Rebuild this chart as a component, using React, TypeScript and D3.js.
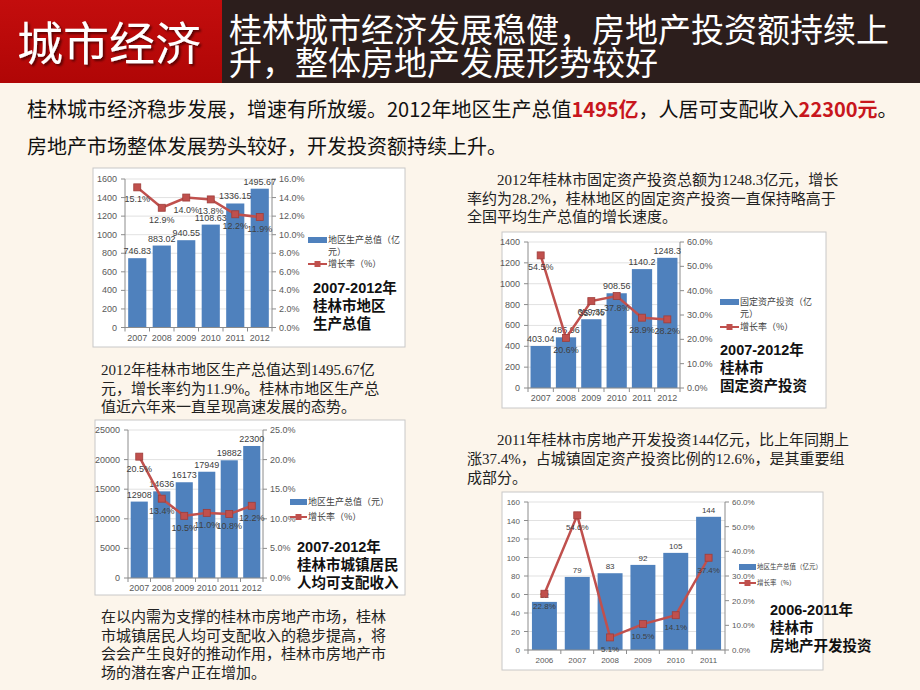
import React from "react";
import * as d3 from "d3";

// ---------- DATA ----------
const gdpYears = ["2007", "2008", "2009", "2010", "2011", "2012"];
const gdpValues = [746.83, 883.02, 940.55, 1108.63, 1336.15, 1495.67];
const gdpRates = [15.1, 12.9, 14.0, 13.8, 12.2, 11.9];

const fixedYears = ["2007", "2008", "2009", "2010", "2011", "2012"];
const fixedValues = [403.04, 485.96, 659.35, 908.56, 1140.2, 1248.3];
const fixedRates = [54.5, 20.6, 35.7, 37.8, 28.9, 28.2];

const incomeYears = ["2007", "2008", "2009", "2010", "2011", "2012"];
const incomeValues = [12908, 14636, 16173, 17949, 19882, 22300];
const incomeRates = [20.5, 13.4, 10.5, 11.0, 10.8, 12.2];

const reYears = ["2006", "2007", "2008", "2009", "2010", "2011"];
const reValues = [52, 79, 83, 92, 105, 144];
const reRates = [22.8, 54.6, 5.1, 10.5, 14.1, 37.4];

const headerLeft = "城市经济";
const headerRight = ["桂林城市经济发展稳健，房地产投资额持续上", "升，整体房地产发展形势较好"];

const para1 = ["　　2012年桂林市固定资产投资总额为1248.3亿元，增长", "率约为28.2%，桂林地区的固定资产投资一直保持略高于", "全国平均生产总值的增长速度。"];
const para2 = ["2012年桂林市地区生产总值达到1495.67亿", "元，增长率约为11.9%。桂林市地区生产总", "值近六年来一直呈现高速发展的态势。"];
const para3 = ["　　2011年桂林市房地产开发投资144亿元，比上年同期上", "涨37.4%，占城镇固定资产投资比例的12.6%，是其重要组", "成部分。"];
const para4 = ["在以内需为支撑的桂林市房地产市场，桂林", "市城镇居民人均可支配收入的稳步提高，将", "会会产生良好的推动作用，桂林市房地产市", "场的潜在客户正在增加。"];

const BLUE = "#4F81BD";
const RED = "#C0504D";
const SANS = "'Liberation Sans', 'Noto Sans CJK SC', sans-serif";
const CJK = "'Noto Sans CJK SC', sans-serif";
const SERIF = "'Liberation Serif', 'Noto Sans CJK SC', serif";

type ComboProps = {
  cats: string[];
  values: number[];
  rates: number[];
  yMax: number;
  yStep: number;
  rMax: number;
  rStep: number;
  box: [number, number, number, number];
  plot: [number, number, number, number];
  pad: number;
  valueFmt: (v: number) => string;
  legend: string[][];
  legendX: number;
  legendY: [number, number];
  legendFont: number;
  legendW: number;
  title: string[];
  titleX: number;
  titleY: number;
  titleGap: number;
  tickFont: number;
  catY: number;
};

function Combo(p: ComboProps) {
  const [x0, y0, x1, y1] = p.plot;
  const x = d3.scaleBand<string>().domain(p.cats).range([x0, x1]).paddingInner(p.pad).paddingOuter(p.pad / 2);
  const y = d3.scaleLinear().domain([0, p.yMax]).range([y1, y0]);
  const r = d3.scaleLinear().domain([0, p.rMax]).range([y1, y0]);
  const yTicks = d3.range(0, p.yMax + p.yStep / 2, p.yStep);
  const rTicks = d3.range(0, p.rMax + p.rStep / 2, p.rStep);
  const bw = x.bandwidth();
  const cx = (c: string) => (x(c) as number) + bw / 2;
  const line = d3
    .line<number>()
    .x((_, i) => cx(p.cats[i]))
    .y((d) => r(d));
  const step = x.step();
  const [bx0, by0, bx1, by1] = p.box;
  const lx = p.legendX;
  return (
    <g>
      <rect x={bx0} y={by0} width={bx1 - bx0} height={by1 - by0} fill="#FFFFFF" stroke="#C8C8C8" strokeWidth={1} />
      {yTicks.map((t) => (
        <line key={"g" + t} x1={x0} x2={x1} y1={y(t)} y2={y(t)} stroke="#D9D9D9" strokeWidth={0.8} />
      ))}
      {p.cats.map((c, i) => (
        <rect key={"b" + c} x={x(c)} y={y(p.values[i])} width={bw} height={y1 - y(p.values[i])} fill={BLUE} />
      ))}
      <line x1={x0} x2={x0} y1={y0} y2={y1} stroke="#8C8C8C" />
      <line x1={x1} x2={x1} y1={y0} y2={y1} stroke="#8C8C8C" />
      <line x1={x0} x2={x1} y1={y1} y2={y1} stroke="#8C8C8C" />
      {yTicks.map((t) => (
        <g key={"yl" + t}>
          <line x1={x0 - 4} x2={x0} y1={y(t)} y2={y(t)} stroke="#8C8C8C" />
          <text x={x0 - 8} y={y(t) + 3} textAnchor="end" fontSize={p.tickFont} fontFamily={SANS} fill="#595959">
            {d3.format("d")(t)}
          </text>
        </g>
      ))}
      {rTicks.map((t) => (
        <g key={"rl" + t}>
          <line x1={x1} x2={x1 + 4} y1={r(t)} y2={r(t)} stroke="#8C8C8C" />
          <text x={x1 + 7} y={r(t) + 3} textAnchor="start" fontSize={p.tickFont} fontFamily={SANS} fill="#595959">
            {d3.format(".1f")(t) + "%"}
          </text>
        </g>
      ))}
      {d3.range(p.cats.length + 1).map((i) => (
        <line key={"ct" + i} x1={x0 + i * step} x2={x0 + i * step} y1={y1} y2={y1 + 4} stroke="#8C8C8C" />
      ))}
      {p.cats.map((c) => (
        <text key={"cl" + c} x={cx(c)} y={p.catY} textAnchor="middle" fontSize={p.tickFont} fontFamily={SANS} fill="#595959">
          {c}
        </text>
      ))}
      {p.cats.map((c, i) => (
        <text key={"vl" + c} x={cx(c)} y={y(p.values[i]) - 4} textAnchor="middle" fontSize={p.tickFont} fontFamily={SANS} fill="#404040">
          {p.valueFmt(p.values[i])}
        </text>
      ))}
      <path d={line(p.rates) || ""} fill="none" stroke={RED} strokeWidth={2.5} />
      {p.cats.map((c, i) => (
        <rect key={"m" + c} x={cx(c) - 3.5} y={r(p.rates[i]) - 3.5} width={7} height={7} fill={RED} stroke="#9E3D3A" strokeWidth={0.8} />
      ))}
      {p.cats.map((c, i) => (
        <text key={"rv" + c} x={cx(c)} y={r(p.rates[i]) + 15} textAnchor="middle" fontSize={p.tickFont} fontFamily={SANS} fill="#404040">
          {d3.format(".1f")(p.rates[i]) + "%"}
        </text>
      ))}
      {/* legend */}
      <rect x={lx} y={p.legendY[0] - 3} width={p.legendW} height={6} fill={BLUE} />
      {p.legend[0].map((s, i) => (
        <text key={"lg0" + i} x={lx + p.legendW + 1} y={p.legendY[0] + p.legendFont * 0.38 + i * (p.legendFont + 3)} fontSize={p.legendFont} fontFamily={CJK} fill="#404040">
          {s}
        </text>
      ))}
      <line x1={lx} x2={lx + p.legendW} y1={p.legendY[1]} y2={p.legendY[1]} stroke={RED} strokeWidth={2} />
      <rect x={lx + p.legendW / 2 - 3} y={p.legendY[1] - 3} width={6} height={6} fill={RED} />
      {p.legend[1].map((s, i) => (
        <text key={"lg1" + i} x={lx + p.legendW + 1} y={p.legendY[1] + p.legendFont * 0.38} fontSize={p.legendFont} fontFamily={CJK} fill="#404040">
          {s}
        </text>
      ))}
      {p.title.map((s, i) => (
        <text key={"tt" + i} x={p.titleX} y={p.titleY + i * p.titleGap} fontSize={14.5} fontWeight="bold" fontFamily={SANS} fill="#111">
          {s}
        </text>
      ))}
    </g>
  );
}

function Para({ lines, x, y, gap }: { lines: string[]; x: number; y: number; gap: number }) {
  return (
    <g>
      {lines.map((s, i) => (
        <text key={i} x={x} y={y + i * gap} fontSize={15} fontFamily={SERIF} fill="#222">
          {s}
        </text>
      ))}
    </g>
  );
}

export default function App() {
  return (
    <svg width={920} height={690} style={{ position: "absolute", left: 0, top: 0 }} xmlns="http://www.w3.org/2000/svg">
      <defs>
        <filter id="hshadow" x="-10%" y="-20%" width="130%" height="150%">
          <feDropShadow dx={2} dy={2} stdDeviation={1} floodColor="#3a0000" floodOpacity={0.75} />
        </filter>
        <linearGradient id="redg" x1="0" y1="0" x2="0" y2="1">
          <stop offset="0" stopColor="#C30D0D" />
          <stop offset="1" stopColor="#B00606" />
        </linearGradient>
      </defs>
      <rect x={0} y={0} width={920} height={690} fill="#FCF5EB" />
      {/* header */}
      <rect x={0} y={0} width={222} height={83} fill="url(#redg)" />
      <rect x={222} y={0} width={698} height={83} fill="#2C1E1C" />
      <text x={17} y={60} fontSize={46} fontFamily={CJK} fill="#FFFFFF" filter="url(#hshadow)">
        {headerLeft}
      </text>
      {headerRight.map((s, i) => (
        <text key={i} x={229} y={42 + i * 33} fontSize={33} fontFamily={CJK} fill="#FFFFFF">
          {s}
        </text>
      ))}
      {/* subtitle */}
      <text x={27} y={117} fontSize={20} fontFamily={CJK} fill="#111">
        桂林城市经济稳步发展，增速有所放缓。2012年地区生产总值
        <tspan fill="#C8161D" fontWeight="bold">1495亿</tspan>
        ，人居可支配收入
        <tspan fill="#C8161D" fontWeight="bold">22300元</tspan>。
      </text>
      <text x={27} y={154} fontSize={20} fontFamily={CJK} fill="#111">
        房地产市场整体发展势头较好，开发投资额持续上升。
      </text>

      {/* chart 1 */}
      <Combo
        cats={gdpYears}
        values={gdpValues}
        rates={gdpRates}
        yMax={1600}
        yStep={200}
        rMax={16}
        rStep={2}
        box={[93, 168, 405, 347]}
        plot={[125, 179, 272, 327.5]}
        pad={0.26}
        valueFmt={(v) => v.toFixed(2)}
        legend={[["地区生产总值（亿", "元）"], ["增长率（%）"]]}
        legendX={308}
        legendY={[240, 264]}
        legendFont={9}
        legendW={19}
        title={["2007-2012年", "桂林市地区", "生产总值"]}
        titleX={313}
        titleY={293}
        titleGap={18}
        tickFont={9}
        catY={341}
      />
      <Para lines={para2} x={101} y={375} gap={18.5} />

      {/* chart 2 */}
      <Para lines={para1} x={467} y={185} gap={18.5} />
      <Combo
        cats={fixedYears}
        values={fixedValues}
        rates={fixedRates}
        yMax={1400}
        yStep={200}
        rMax={60}
        rStep={10}
        box={[502, 232, 826, 408]}
        plot={[528, 242, 680, 388]}
        pad={0.2}
        valueFmt={(v) => String(v)}
        legend={[["固定资产投资（亿", "元）"], ["增长率（%）"]]}
        legendX={720}
        legendY={[302, 327]}
        legendFont={9}
        legendW={19}
        title={["2007-2012年", "桂林市", "固定资产投资"]}
        titleX={720}
        titleY={355}
        titleGap={18}
        tickFont={9}
        catY={401}
      />

      {/* chart 3 */}
      <Combo
        cats={incomeYears}
        values={incomeValues}
        rates={incomeRates}
        yMax={25000}
        yStep={5000}
        rMax={25}
        rStep={5}
        box={[95, 420, 405, 595]}
        plot={[128, 430, 263, 578]}
        pad={0.24}
        valueFmt={(v) => String(v)}
        legend={[["地区生产总值（元）"], ["增长率（%）"]]}
        legendX={290}
        legendY={[502, 517]}
        legendFont={9}
        legendW={17}
        title={["2007-2012年", "桂林市城镇居民", "人均可支配收入"]}
        titleX={297}
        titleY={552}
        titleGap={18}
        tickFont={9}
        catY={591}
      />
      <Para lines={para4} x={101} y={622} gap={18.5} />

      {/* chart 4 */}
      <Para lines={para3} x={467} y={445} gap={19} />
      <Combo
        cats={reYears}
        values={reValues}
        rates={reRates}
        yMax={160}
        yStep={20}
        rMax={60}
        rStep={10}
        box={[502, 492, 823, 670]}
        plot={[528, 502, 725, 650]}
        pad={0.24}
        valueFmt={(v) => String(v)}
        legend={[["地区生产总值（亿元）"], ["增长率（%）"]]}
        legendX={739}
        legendY={[567, 583]}
        legendFont={6.5}
        legendW={17}
        title={["2006-2011年", "桂林市", "房地产开发投资"]}
        titleX={770}
        titleY={615}
        titleGap={18}
        tickFont={8}
        catY={663}
      />
    </svg>
  );
}
